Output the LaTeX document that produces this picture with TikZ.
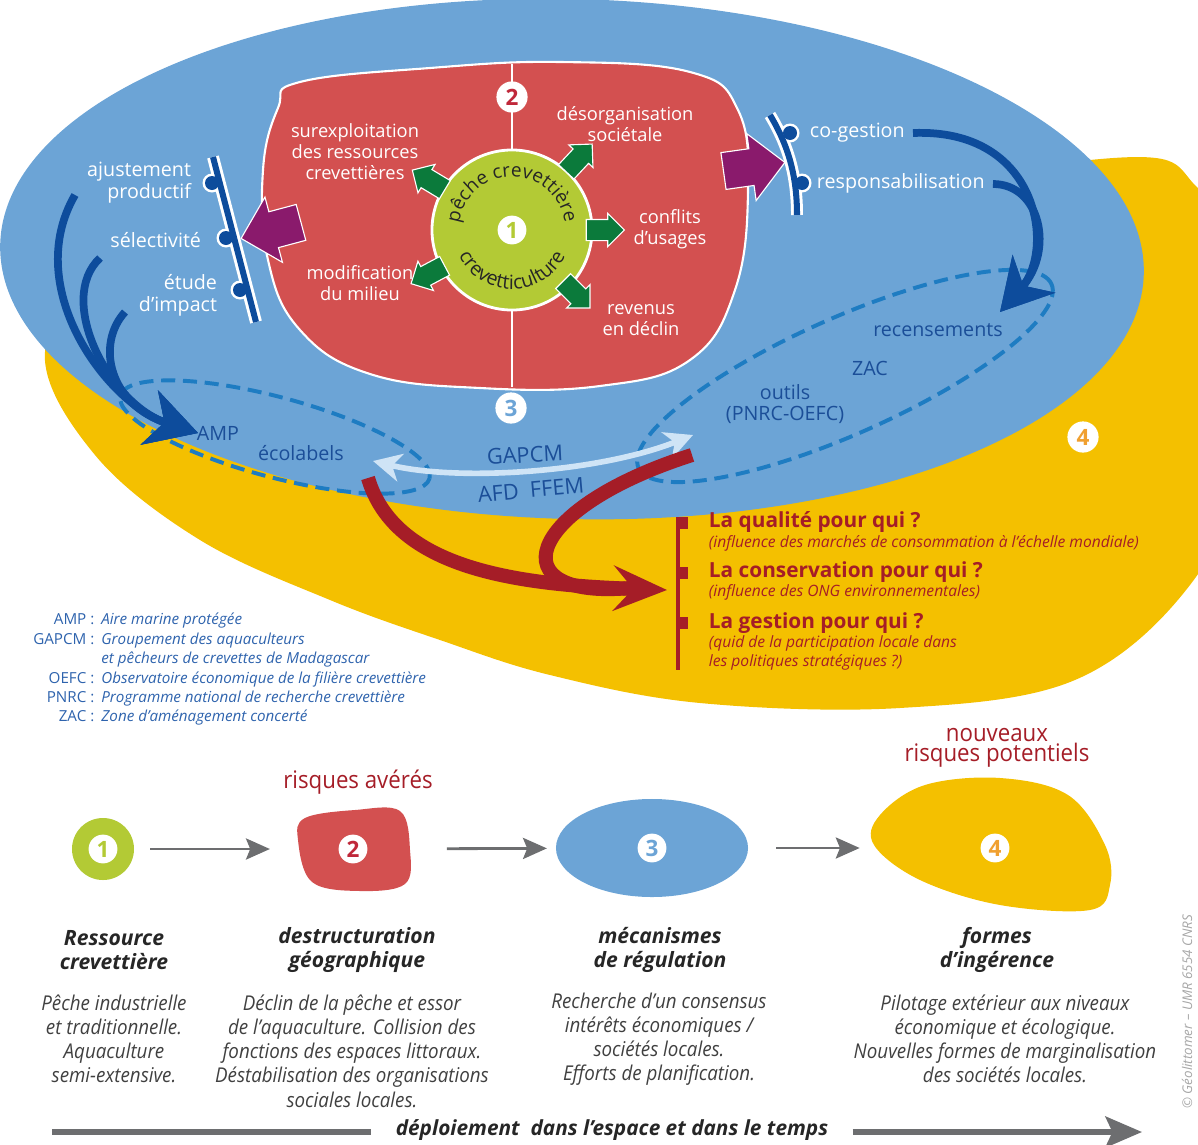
\documentclass[tikz,border=0pt]{standalone}
\usepackage{fontspec}
\setmainfont{Open Sans}
\newfontfamily\condfont[FakeStretch=0.92, Ligatures=TeX]{Open Sans}
\usetikzlibrary{arrows.meta, positioning, calc, shapes.arrows, shapes.geometric, decorations.text}

\definecolor{zoneblue}{HTML}{6CA4D6}
\definecolor{zoneyellow}{HTML}{F4C000}
\definecolor{zonered}{HTML}{D35050}
\definecolor{zonegreen}{HTML}{B3CA35}
\definecolor{arrowgreen}{HTML}{0B7A3B}
\definecolor{violet2}{HTML}{8A1A6C}
\definecolor{navy2}{HTML}{0D4C9C}
\definecolor{txtblue}{HTML}{1B4E98}
\definecolor{dashblue}{HTML}{1E7CC2}
\definecolor{paleblue}{HTML}{CFE4F6}
\definecolor{darkred}{HTML}{A51D27}
\definecolor{greyline}{HTML}{6D6E70}
\definecolor{numorange}{HTML}{F0A030}
\definecolor{numred}{HTML}{C0283A}
\definecolor{legblue}{HTML}{2E63AD}

\tikzset{
  redlbl/.style={font=\fontsize{13}{15}\selectfont, text=white, align=center},
  whitelbl/.style={font=\fontsize{14}{15.5}\selectfont, text=white},
  bluelbl/.style={font=\fontsize{14}{15.5}\selectfont, text=txtblue, align=center},
  badge/.style={circle, fill=white, inner sep=0pt, minimum size=0.78cm, font=\fontsize{16}{16}\selectfont\bfseries},
  garrow/.style={single arrow, fill=arrowgreen, draw=white, line width=0.8pt, inner xsep=0pt, inner ysep=0.25cm,
    minimum height=0.95cm, single arrow head extend=0.15cm},
  purparrow/.style={single arrow, fill=violet2, draw=white, line width=0.8pt, inner xsep=0pt, inner ysep=0.45cm,
    minimum height=1.55cm, single arrow head extend=0.38cm},
  navyarrow/.style={navy2, line width=5.5pt, -{Stealth[length=36pt, width=40pt, inset=11pt]}},
  greyarrow/.style={greyline, line width=2pt, -{Stealth[length=17pt, width=15pt, inset=3pt]}},
  question/.style={anchor=west, font=\fontsize{14.8}{16}\selectfont\bfseries, text=darkred},
  precision/.style={anchor=west, font=\fontsize{11.1}{14}\selectfont\itshape, text=darkred, align=left},
  stagetitle/.style={font=\fontsize{15}{17}\selectfont\bfseries\itshape, text=black!85, align=center},
  stagetext/.style={font=\condfont\fontsize{14.5}{17.2}\selectfont\itshape, text=black!75, align=center},
  risk/.style={font=\condfont\fontsize{17.2}{14}\selectfont, text=darkred, align=center},
}

\begin{document}
\begin{tikzpicture}[x=0.025cm, y=0.025cm]
\useasboundingbox (0,0) rectangle (1198,-1145);
\clip (0,0) rectangle (1198,-1145);

% zone 4
\fill[zoneyellow] plot[smooth cycle, tension=0.6] coordinates {(110,-260) (600,-250) (1090,-160)
  (1200,-190) (1250,-300) (1245,-460) (1190,-585) (1075,-680) (900,-708) (700,-703) (550,-675)
  (440,-640) (330,-600) (200,-540) (95,-455) (45,-352)};

% zone 3
\fill[zoneblue, rotate around={-1.5:(572,-259)}] (572,-259) ellipse [x radius=572, y radius=260];

% zone 2
\filldraw[fill=zonered, draw=white, line width=1.5pt] plot[smooth cycle, tension=0.7] coordinates {
  (300,-82) (430,-68) (560,-62) (690,-72) (738,-110) (748,-190) (735,-290) (690,-360) (600,-386)
  (480,-388) (370,-374) (300,-330) (268,-260) (263,-170) (278,-108)};
\draw[white, line width=1.5pt] (512,-64) -- (512,-387);

% zone 1
\node[circle, fill=zonegreen, draw=white, line width=2pt, minimum size=4cm] (c1) at (512,-230) {};
\path[decorate, decoration={text along path, text align=center, text color=black!85,
  text={|\fontsize{13.5}{13.5}\selectfont|pêche crevettière}}]
  ([shift={(178:1.33cm)}]c1.center) arc[start angle=178, end angle=2, radius=1.33cm];
\path[decorate, decoration={text along path, text align=center, text color=black!85,
  text={|\fontsize{14}{14}\selectfont|crevetticulture}}]
  ([shift={(195:1.48cm)}]c1.center) arc[start angle=195, end angle=345, radius=1.48cm];
\node[badge, minimum size=0.72cm, text=zonegreen] (n1) at (c1) {1};
\foreach \a/\d [count=\i] in {149/2.3, 47/2.33, 0/2.2, -45/2.15, 208/2.25}
  \node[garrow, rotate=\a] (ga\i) at ([shift={(\a:\d cm)}]c1.center) {};

\node[badge, text=numred] (n2) at (512,-97) {2};
\node[redlbl] (surexp) at (355,-152) {surexploitation\\des ressources\\crevettières};
\node[redlbl] (desorg) at (625,-124) {désorganisation\\sociétale};
\node[redlbl] (conflits) at (670,-229) {conflits\\d'usages};
\node[redlbl] (revenus) at (641,-320) {revenus\\en déclin};
\node[redlbl] (modif) at (360,-283) {modification\\du milieu};

% purple arrows
\node[purparrow, rotate=195] (pl) at (280,-228) {};
\node[purparrow, rotate=8] (pr) at (745,-168) {};

% left bar
\coordinate (lbtop) at (213,-157);
\coordinate (lbbot) at (256,-322);
\draw[white, line width=8.5pt] (lbtop) -- (lbbot);
\foreach \k in {(212,-183), (226,-238), (240,-290)} \fill[white] \k circle (9.5);
\draw[navy2, line width=4.3pt] (lbtop) -- (lbbot);
\foreach \k in {(212,-183), (226,-238), (240,-290)} \fill[navy2] \k circle (7);
\node[whitelbl, anchor=east, align=right] (ajust) at (196,-183) {ajustement\\productif};
\node[whitelbl, anchor=east] (select) at (206,-240) {sélectivité};
\node[whitelbl, anchor=east, align=right] (etude) at (222,-295) {étude\\d'impact};

% right bar
\coordinate (rbtop) at (770,-115);
\coordinate (rbbot) at (797,-215);
\draw[white, line width=8.5pt] (rbtop) .. controls (788,-145) and (797,-175) .. (rbbot);
\foreach \k in {(790,-133), (802,-183)} \fill[white] \k circle (9.5);
\draw[navy2, line width=4.3pt] (rbtop) .. controls (788,-145) and (797,-175) .. (rbbot);
\foreach \k in {(790,-133), (802,-183)} \fill[navy2] \k circle (7);
\node[whitelbl, anchor=west] (cogest) at (805,-133) {co-gestion};
\node[whitelbl, anchor=west] (respons) at (812,-183) {responsabilisation};

% dashed groups
\draw[dashblue, line width=2.8pt, dash pattern=on 10pt off 5.5pt, rotate around={-15:(275,-437)}]
  (275,-437) ellipse [x radius=160, y radius=40];
\draw[dashblue, line width=2.8pt, dash pattern=on 10pt off 5.5pt, rotate around={24:(845,-376)}]
  (845,-376) ellipse [x radius=226, y radius=58];

% navy arrows
\coordinate (aj) at (75,-195);
\coordinate (se) at (100,-258);
\coordinate (et) at (125,-312);
\coordinate (amptip) at (198,-433);
\draw[navyarrow] (aj) .. controls (20,-290) and (110,-405) .. (amptip);
\draw[navyarrow] (se) .. controls (55,-300) and (110,-405) .. (amptip);
\draw[navyarrow] (et) .. controls (95,-345) and (110,-405) .. (amptip);
\coordinate (cg) at (913,-133);
\coordinate (rs) at (993,-184);
\coordinate (rectip) at (1000,-312);
\draw[navyarrow] (cg) .. controls (1040,-128) and (1055,-250) .. (rectip);
\draw[navyarrow] (rs) .. controls (1040,-184) and (1055,-250) .. (rectip);

\node[bluelbl] (recens) at (938,-330) {recensements};
\node[bluelbl] (zac) at (870,-368) {ZAC};
\node[bluelbl] (outils) at (785,-404) {outils\\(PNRC-OEFC)};
\node[bluelbl] (amp) at (218,-433) {AMP};
\node[bluelbl] (ecolab) at (301,-453) {écolabels};
\node[badge, text=zoneblue] (n3) at (511,-408) {3};

% GAPCM link
\coordinate (gl) at (373,-461);
\coordinate (gr) at (693,-435);
\draw[paleblue, line width=4pt, {Stealth[length=20pt, width=20pt, inset=6pt]}-{Stealth[length=20pt, width=20pt, inset=6pt]}]
  (gl) .. controls (460,-482) and (600,-472) .. (gr);
\node[bluelbl, font=\fontsize{15.5}{16}\selectfont, rotate=3] (gapcm) at (525,-455) {GAPCM};
\node[bluelbl, font=\fontsize{15.5}{16}\selectfont, rotate=5] (afd) at (531,-490) {AFD\ \ FFEM};

% red arrows
\coordinate (rs1) at (368,-478);
\coordinate (rs2) at (692,-455);
\coordinate (rtip) at (667,-590);
\draw[darkred, line width=10pt] (rs2) .. controls (520,-510) and (500,-600) .. (630,-588);
\draw[darkred, line width=10pt, -{Stealth[length=38pt, width=32pt, inset=14pt]}]
  (rs1) .. controls (395,-570) and (520,-585) .. (rtip);

% questions
\draw[darkred, line width=3pt] (678,-517) -- (678,-670);
\foreach \y in {523,573,623} \fill[darkred] (676,{6-\y}) rectangle (688,{-6-\y});
\node[question] (q1) at (704,-522) {La qualité pour qui ?};
\node[precision] (p1) at (704,-543) {(influence des marchés de consommation à l'échelle mondiale)};
\node[question] (q2) at (704,-572) {La conservation pour qui ?};
\node[precision] (p2) at (704,-592) {(influence des ONG environnementales)};
\node[question] (q3) at (704,-623) {La gestion pour qui ?};
\node[precision] (p3) at (704,-653) {(quid de la participation locale dans\\les politiques stratégiques ?)};
\node[badge, text=numorange] (n4) at (1083,-437) {4};

% legend
\node[anchor=north west, inner sep=0pt, font=\fontsize{10.8}{13.8}\selectfont, text=legblue] (legende) at (33,-611) {%
  \begin{tabular}{@{}r@{}l@{}}
  AMP :\kern5pt & \itshape Aire marine protégée\\
  GAPCM :\kern5pt & \itshape Groupement des aquaculteurs\\
   & \itshape et pêcheurs de crevettes de Madagascar\\
  OEFC :\kern5pt & \itshape Observatoire économique de la filière crevettière\\
  PNRC :\kern5pt & \itshape Programme national de recherche crevettière\\
  ZAC :\kern5pt & \itshape Zone d'aménagement concerté
  \end{tabular}};

% bottom stages
\node[circle, fill=zonegreen, minimum size=1.55cm, inner sep=0pt] (s1) at (103,-849) {};
\node[badge, minimum size=0.72cm, text=zonegreen] (m1) at (s1) {1};
\fill[zonered] plot[smooth cycle, tension=0.6] coordinates {(305,-818) (355,-810) (400,-811)
  (410,-850) (405,-884) (360,-891) (312,-882) (298,-840)};
\node[minimum width=2.78cm, minimum height=2.05cm, inner sep=0pt] (s2) at (353,-849) {};
\node[badge, minimum size=0.72cm, text=numred] (m2) at (s2) {2};
\node[ellipse, fill=zoneblue, minimum width=4.8cm, minimum height=2.45cm, inner sep=0pt] (s3) at (652,-848) {};
\node[badge, minimum size=0.72cm, text=zoneblue] (m3) at (s3) {3};
\fill[zoneyellow] plot[smooth cycle, tension=0.6] coordinates {(880,-815) (925,-785) (1000,-778)
  (1068,-795) (1105,-845) (1110,-885) (1090,-910) (1000,-905) (920,-880) (874,-845)};
\node[minimum width=5.95cm, minimum height=3.2cm, inner sep=0pt] (s4) at (991,-844) {};
\node[badge, minimum size=0.72cm, text=numorange] (m4) at (995,-848) {4};

\draw[greyarrow, shorten <=0.4cm, shorten >=0.68cm] (s1) -- (s2);
\draw[greyarrow, shorten <=0.95cm, shorten >=0.22cm] (s2) -- (s3);
\draw[greyarrow, shorten <=0.7cm, shorten >=0.3cm] (s3) -- (s4.west |- s3);

\node[risk] (avere) at (358,-782) {risques avérés};
\node[risk] (potent) at (997,-748) {nouveaux\\risques potentiels};

\node[stagetitle] (t1) at (114,-950) {Ressource\\crevettière};
\node[stagetitle] (t2) at (357,-950) {destructuration\\géographique};
\node[stagetitle] (t3) at (660,-950) {mécanismes\\de régulation};
\node[stagetitle] (t4) at (997,-950) {formes\\d'ingérence};

\node[stagetext] (d1) at (114,-1039) {Pêche industrielle\\et traditionnelle.\\Aquaculture\\semi-extensive.};
\node[stagetext] (d2) at (352,-1051) {Déclin de la pêche et essor\\de l'aquaculture. Collision des\\fonctions des espaces littoraux.\\Déstabilisation des organisations\\sociales locales.};
\node[stagetext] (d3) at (659,-1039) {Recherche d'un consensus\\intérêts économiques /\\sociétés locales.\\Efforts de planification.};
\node[stagetext] (d4) at (1005,-1039) {Pilotage extérieur aux niveaux\\économique et écologique.\\Nouvelles formes de marginalisation\\des sociétés locales.};

% time axis
\node[font=\fontsize{14.8}{16}\selectfont\bfseries\itshape, text=black!85, inner xsep=0.6cm] (deploi) at (612,-1130)
  {déploiement\ \ dans l'espace et dans le temps};
\coordinate (tdebut) at (52,-1132);
\coordinate (tfin) at (1142,-1132);
\draw[greyline, line width=4pt] (tdebut) -- (tdebut -| deploi.west);
\draw[greyline, line width=4pt, -{Stealth[length=26pt, width=22pt, inset=5pt]}] (tfin -| deploi.east) -- (tfin);

\node[rotate=90, anchor=east, font=\fontsize{9.5}{10}\selectfont\itshape, text=black!35] (credit) at (1187,-910)
  {© Géolittomer – UMR 6554 CNRS};
\end{tikzpicture}
\end{document}
